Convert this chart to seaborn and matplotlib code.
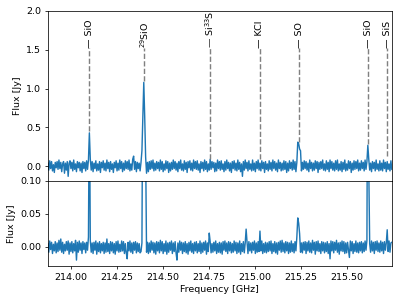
# -*- coding: utf-8 -*-
# Spectrum with line identifications: full range (top) and zoom on weak lines (bottom)
import numpy as np
import pandas as pd
import matplotlib
matplotlib.use("Agg")
import matplotlib.pyplot as plt
import seaborn as sns

# ===================== data =====================
# channel grid (GHz)
f_start = 213.877
f_step = 0.005
n_chan = 374

# top panel flux, units of 0.01 Jy
flux_top_cjy = [
    4, -5, 7, -3, 6, -6, 2, -8, 5, -2, 6, -4, 8, -3, 5, -7, 3, 6, -9, 4,
    -5, 6, -13, 4, 7, -3, 5, -6, 8, -4, 3, -7, 6, -2, 5, -6, 4, -8, 6, -3,
    5, -6, 7, -4, 8, 43, 9, -5, 6, -7, 4, -3, 7, -6, 3, -5, 6, -8, 5, -2,
    7, -5, 4, -6, 8, -3, 5, -7, 6, -4, 3, -8, 5, -2, 7, -6, 4, -5, 8, -3,
    6, -7, 4, -5, 7, -3, 6, -4, 8, -6, 3, -5, 9, 13, -4, 6, -7, 5, -3, 4,
    -6, 5, 20, 65, 108, 64, 12, -9, 5, -7, 6, -4, 7, -3, 8, -6, 4, -5, 6, -3,
    5, -6, 8, -4, 6, -7, 3, -5, 7, -3, 6, -8, 4, -6, 5, -4, 8, -3, 6, -5,
    4, -7, 6, -3, 8, -5, 3, -6, 7, -4, 5, -8, 6, -2, 7, -5, 4, -6, 8, -3,
    6, -4, 7, -5, 3, -8, 6, -3, 5, -6, 8, -4, 6, -7, 3, -5, 9, -4, 6, -2,
    5, -7, 4, -6, 8, -3, 6, -5, 7, -4, 3, -7, 6, -5, 8, -3, 5, -6, 4, -8,
    6, -3, 7, -5, 4, -6, 8, -4, 5, -7, 3, -13, 6, -5, 8, -3, 5, -6, 7, -4,
    3, -6, 8, -5, 4, -7, 6, -3, 8, -5, 4, -6, 7, -3, 5, -8, 6, -4, 3, -6,
    7, -4, 5, -6, 8, -3, 6, -5, 4, -7, 8, -3, 5, -6, 4, -5, 7, -4, 6, -8,
    4, -6, 7, -3, 5, -5, 8, -4, 6, -7, 5, 31, 29, 22, 20, -6, 5, -4, 7, -3,
    6, -5, 4, -7, 8, -3, 5, -6, 4, -5, 7, -3, 6, -8, 5, -4, 6, -3, 8, -5,
    3, -6, 7, -4, 5, -7, 8, -3, 6, -5, 4, -6, 7, -4, 8, -6, 3, -5, 6, -7,
    5, -4, 8, -6, 3, -5, 7, -3, 6, -8, 4, -5, 7, -4, 6, -3, 8, -6, 4, -5,
    7, -3, 5, -6, 8, -4, 6, 27, 9, -5, 4, -7, 6, -3, 5, -6, 8, -4, 3, -6,
    7, -5, 4, -6, 8, -3, 5, -7, 6, -4, 3, -6, 7, -4,
]

# bottom panel flux (smoothed), units of mJy
flux_bot_mjy = [
    5, -8, 9, -4, 7, -10, 4, -6, 8, -9, 6, -7, 10, -5, 12, -8, 7, -10, 4, -6,
    8, -5, 9, -11, 6, -7, 8, -9, 5, -6, 10, -20, 7, -8, 9, -5, 6, -10, 8, -4,
    6, -9, 7, -5, 15, 250, 10, -8, 6, -10, 7, -5, 9, -11, 6, -7, 8, -9, 5, -6,
    7, -10, 6, -8, 12, -7, 5, -10, 8, -6, 7, -9, 5, -11, 8, -6, 9, -8, 4, -7,
    9, -6, 8, -10, 5, -9, -18, 7, -6, 9, -8, 6, -10, 7, -5, 8, -9, 6, -7, 5,
    -9, -7, 6, 300, 900, 500, 150, -8, 7, -10, 6, -8, 9, -5, 7, -9, 6, -11, 8, -6,
    7, -9, 10, -6, 8, -10, 5, -7, 9, -11, 6, -8, 7, -5, 9, -10, 6, -7, 8, -9,
    -20, 6, -8, 9, -5, 7, -10, 6, -7, 8, -9, 5, -11, 7, -6, 9, -8, 5, -10, 7,
    -6, 8, -9, 5, -7, 9, -10, 6, -8, 7, -5, 9, -11, 6, -7, 21, 8, -9, 5, -8,
    7, -6, 9, -10, 5, -8, 7, -9, 6, -11, 8, -5, 9, -7, 6, -10, 8, -6, 7, -9,
    5, -8, 9, -6, 7, -10, 6, -8, 9, -11, 5, -7, 8, -9, 6, 27, 7, -10, 8, -6,
    6, -9, 7, -5, 9, -10, 6, -8, 8, -7, 24, -6, 9, -10, 5, -8, 7, -9, 6, -7,
    8, -6, 9, -10, 5, -7, 8, -9, 6, -11, 7, -5, 9, -8, 10, -7, 6, -9, 8, -6,
    7, -10, 6, -8, 9, -7, 5, -9, 8, -6, 15, 44, 36, 20, -8, 6, -9, 7, -5, 8,
    -10, 7, -6, 9, -8, 6, -9, 10, -5, 7, -11, 8, -6, 9, -7, 5, -10, 8, -6, 7,
    -9, 6, -7, 8, -10, 5, -18, 9, -6, 8, -9, 7, -5, 10, -8, 6, -11, 7, -6, 9,
    -7, 8, -10, 6, -9, 7, -5, -16, 9, -6, 8, -10, 5, -7, 9, -8, 6, -9, 7, -6,
    8, -9, 6, -7, 9, -5, 10, 400, 120, 5, -8, 9, -6, 7, -10, 8, -5, 9, -7, 6,
    -8, 9, -6, 7, -10, 8, -5, 6, 26, -7, 9, -8, 6, 7,
]

# line identifications
line_names = ["— SiO", "$^{29}$SiO", "— Si$^{33}$S", "— KCl", "— SO", "— SiO", "— SiS"]
line_freqs = [214.102, 214.400, 214.757, 215.026, 215.240, 215.614, 215.716]
line_ymin = [0.45, 1.10, 0.09, 0.09, 0.31, 0.28, 0.13]
label_y = 1.52

freq = f_start + f_step * np.arange(n_chan)
df = pd.DataFrame({
    "freq": freq,
    "top": np.array(flux_top_cjy) / 100.0,
    "bot": np.array(flux_bot_mjy) / 1000.0,
})

# ===================== plot =====================
dpi = 68
fig = plt.figure(figsize=(399 / dpi, 303 / dpi), dpi=dpi)
gs = fig.add_gridspec(2, 1, height_ratios=[2, 1], hspace=0,
                      left=0.120, right=0.982, top=0.964, bottom=0.122)
ax1 = fig.add_subplot(gs[0])
ax2 = fig.add_subplot(gs[1], sharex=ax1)

sns.lineplot(data=df, x="freq", y="top", ax=ax1, color="C0", sort=False)
sns.lineplot(data=df, x="freq", y="bot", ax=ax2, color="C0", sort=False)

for name, f0, y0 in zip(line_names, line_freqs, line_ymin):
    ax1.plot([f0, f0], [y0, label_y], ls="--", color="gray")
    ax1.text(f0, label_y, name, rotation=90, ha="center", va="bottom")

ax1.set_xlim(213.877, 215.742)
ax1.set_ylim(-0.19, 2.0)
ax1.set_yticks([0.0, 0.5, 1.0, 1.5, 2.0])
ax1.set_ylabel("Flux [Jy]")
ax1.set_xlabel("")
ax1.tick_params(axis="x", bottom=False, labelbottom=False)

ax2.set_ylim(-0.029, 0.10)
ax2.set_yticks([0.0, 0.05, 0.10])
ax2.set_xticks([214.0, 214.25, 214.5, 214.75, 215.0, 215.25, 215.5])
ax2.xaxis.set_major_formatter(plt.FormatStrFormatter("%.2f"))
ax2.yaxis.set_major_formatter(plt.FormatStrFormatter("%.2f"))
ax2.set_ylabel("Flux [Jy]")
ax2.set_xlabel("Frequency [GHz]")

fig.savefig("out.png", dpi=dpi)
